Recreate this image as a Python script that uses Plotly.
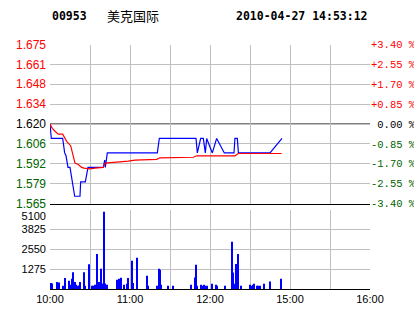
import plotly.graph_objects as go

W, H = 414, 314

# ---------------- data ----------------
STOCK_CODE = "00953"
STOCK_NAME = "美克国际"
STAMP = "2010-04-27 14:53:12"
PREV_CLOSE = 1.620

# minutes since 10:00 (HK session: 10:00-12:30, 14:30-16:00 -> 240 min)
PRICE_MIN = [0, 1, 9.5, 11, 12, 13.5, 15, 16, 17, 18.5, 22.5, 23, 26.5, 28.5, 40,
             41, 41.5, 43, 80.5, 82, 109.5, 110.5, 113, 115, 116.5, 117.5, 121.75,
             125, 130.75, 138, 138.7, 140.5, 141.3, 165, 174]
PRICE = [1.620, 1.610, 1.610, 1.600, 1.598, 1.590, 1.590, 1.584, 1.580, 1.570, 1.570,
         1.580, 1.580, 1.590, 1.590, 1.595, 1.590, 1.600, 1.600, 1.610, 1.610, 1.600,
         1.610, 1.610, 1.600, 1.610, 1.600, 1.610, 1.600, 1.600, 1.610, 1.610, 1.600,
         1.600, 1.610]

AVG_MIN = [0, 1.7, 3.75, 6.25, 9.5, 10.5, 12.5, 15.5, 16.75, 18.75, 21.25, 23.75,
           25.5, 30, 33.75, 40, 41.25, 52.5, 58.75, 63.75, 80, 82.5, 107.5, 110,
           138.75, 141.25, 173.75]
AVG = [1.620, 1.617, 1.615, 1.613, 1.613, 1.611, 1.608, 1.605, 1.600, 1.593, 1.592,
       1.590, 1.5895, 1.589, 1.5895, 1.590, 1.593, 1.5936, 1.5943, 1.595, 1.5955,
       1.5966, 1.597, 1.598, 1.598, 1.5996, 1.5996]

VOL_MIN = [0, 0.75, 1.5, 5.25, 6.75, 9.75, 11.25, 14.25, 15.75, 16.5, 17.25, 18.75,
           19.5, 20.25, 21.75, 22.5, 25.5, 26.25, 29.25, 31.5, 32.25, 33.75, 34.5,
           35.25, 36.75, 37.5, 38.25, 39.75, 40.5, 41.25, 42.75, 50.25, 51.75, 53.25,
           55.5, 57.75, 58.5, 61.5, 62.25, 65.25, 72.75, 73.5, 80.25, 81.75, 82.5,
           83.25, 88.5, 92.25, 105.75, 108.75, 109.5, 110.25, 113.25, 114.75, 115.5,
           116.25, 117.75, 121.5, 124.5, 125.25, 131.25, 136.5, 137.25, 138, 139.5,
           140.25, 141, 143.25, 150, 151.5, 152.25, 153, 155.25, 156, 157.5, 160.5,
           165, 173.25]
VOL = [210, 380, 350, 445, 410, 210, 700, 530, 280, 655, 1080, 445, 280, 210, 230,
       445, 1080, 210, 1590, 210, 210, 280, 230, 2250, 445, 210, 1295, 350, 4950, 350,
       280, 590, 655, 720, 280, 330, 700, 1805, 380, 2000, 850, 210, 210, 1295, 1230,
       280, 210, 210, 280, 740, 1550, 210, 280, 210, 280, 210, 210, 340, 280, 210, 210,
       3035, 1060, 340, 1610, 550, 2250, 210, 275, 210, 275, 340, 210, 210, 210, 340,
       485, 655]

P_TICKS = [1.565, 1.57875, 1.5925, 1.60625, 1.620, 1.63375, 1.6475, 1.66125, 1.675]
P_LABELS = ["1.565", "1.579", "1.592", "1.606", "1.620", "1.634", "1.648", "1.661", "1.675"]
PCT_LABELS = ["-3.40 %", "-2.55 %", "-1.70 %", "-0.85 %", " 0.00 %",
              "+0.85 %", "+1.70 %", "+2.55 %", "+3.40 %"]
V_TICKS = [0, 1275, 2550, 3825, 5100]
V_LABELS = ["", "1275", "2550", "3825", "5100"]
X_TICKS = [0, 30, 60, 90, 120, 150, 180, 210, 240]
X_LABELS = ["10:00", "", "11:00", "", "12:00", "", "15:00", "", "16:00"]

RED = "#ff0000"
GREEN = "#006400"
GRID = "#c0c0c0"


def colour(v, base):
    if abs(v - base) < 1e-9:
        return "#000000"
    return RED if v > base else GREEN


p_text = [f'<span style="color:{colour(v, PREV_CLOSE)}">{t}</span>' for v, t in zip(P_TICKS, P_LABELS)]
pct_text = [f'<span style="color:{colour(v, PREV_CLOSE)}">{t}</span>' for v, t in zip(P_TICKS, PCT_LABELS)]

XD = [50 / W, 370 / W]
PD = [(H - 203.5) / H, (H - 44.5) / H]
VD = [(H - 289) / H, (H - 209.5) / H]
VPX = VD[1] * H - VD[0] * H           # volume panel height in px
# top volume label sits a few px below the panel top in the reference
v_label_vals = V_TICKS[:-1] + [V_TICKS[-1] * (1 - 6.5 / VPX)]

fig = go.Figure()
fig.add_trace(go.Scatter(x=PRICE_MIN, y=PRICE, mode="lines",
                         line=dict(color="#0000ff", width=1.2), xaxis="x", yaxis="y"))
fig.add_trace(go.Scatter(x=AVG_MIN, y=AVG, mode="lines",
                         line=dict(color=RED, width=1.2), xaxis="x", yaxis="y"))
# invisible helper so the right-hand percentage axis is drawn
fig.add_trace(go.Scatter(x=AVG_MIN, y=AVG, mode="lines", line=dict(width=0),
                         opacity=0, hoverinfo="skip", xaxis="x", yaxis="y2"))
fig.add_trace(go.Bar(x=VOL_MIN, y=VOL, width=0.75, marker=dict(color="#0000ff", line=dict(width=0)),
                     xaxis="x2", yaxis="y3"))
fig.add_trace(go.Bar(x=VOL_MIN, y=VOL, width=0.75, opacity=0, hoverinfo="skip",
                     xaxis="x2", yaxis="y4"))

price_font = dict(family="Liberation Sans, Arial", size=12, color="#000000")
small_font = dict(family="Liberation Sans, Arial", size=11, color="#000000")
title_font = dict(family="DejaVu Sans Mono", size=11.5, color="#000000", weight="bold")

fig.update_layout(
    width=W, height=H, margin=dict(l=0, r=0, t=0, b=0, autoexpand=False),
    paper_bgcolor="white", plot_bgcolor="white", showlegend=False, barmode="overlay",
    xaxis=dict(domain=XD, range=[0, 240], tickvals=X_TICKS, showticklabels=False,
               showgrid=True, gridcolor=GRID, gridwidth=1, zeroline=False, automargin=False,
               showline=True, linecolor="#000000", linewidth=1, ticks="", anchor="y"),
    yaxis=dict(domain=PD, range=[P_TICKS[0], P_TICKS[-1]], tickvals=P_TICKS, ticktext=p_text,
               showgrid=True, gridcolor=GRID, zeroline=False, ticks="", anchor="x",
               automargin=False, tickfont=price_font, ticklabelstandoff=3),
    yaxis2=dict(overlaying="y", side="right", anchor="x", range=[P_TICKS[0], P_TICKS[-1]],
                tickvals=P_TICKS, ticktext=pct_text, showgrid=False, zeroline=False, ticks="",
                automargin=False,
                tickfont=dict(family="Liberation Mono, Courier New", size=10.5)),
    xaxis2=dict(domain=XD, range=[0, 240], tickvals=X_TICKS, ticktext=X_LABELS,
                showgrid=True, gridcolor=GRID, zeroline=False, showline=True, automargin=False,
                linecolor="#000000", linewidth=1, ticks="", anchor="y3", tickfont=small_font),
    yaxis3=dict(domain=VD, range=[0, 5100], tickvals=V_TICKS, showticklabels=False,
                showgrid=True, gridcolor=GRID, zeroline=False, ticks="", anchor="x2",
                automargin=False),
    yaxis4=dict(overlaying="y3", side="left", anchor="x2", range=[0, 5100],
                tickvals=v_label_vals, ticktext=V_LABELS, showgrid=False, zeroline=False,
                ticks="", automargin=False, tickfont=small_font, ticklabelstandoff=3),
    shapes=[
        dict(type="line", xref="x domain", x0=0, x1=1, yref="y", y0=PREV_CLOSE, y1=PREV_CLOSE,
             line=dict(color="#000000", width=1), layer="below"),
    ],
    annotations=[
        dict(text=STOCK_CODE, xref="paper", yref="paper", x=50 / W, y=1 - 16 / H,
             xanchor="left", yanchor="middle", showarrow=False, align="left",
             font=title_font),
        dict(text=STOCK_NAME, xref="paper", yref="paper", x=105 / W, y=1 - 16 / H,
             xanchor="left", yanchor="middle", showarrow=False, align="left",
             font=dict(family="Noto Sans CJK SC", size=13, color="#000000")),
        dict(text=STAMP, xref="paper", yref="paper", x=370 / W, y=1 - 16 / H,
             xanchor="right", yanchor="middle", showarrow=False, align="right",
             font=title_font),
    ],
)

fig.write_html("out.html")
